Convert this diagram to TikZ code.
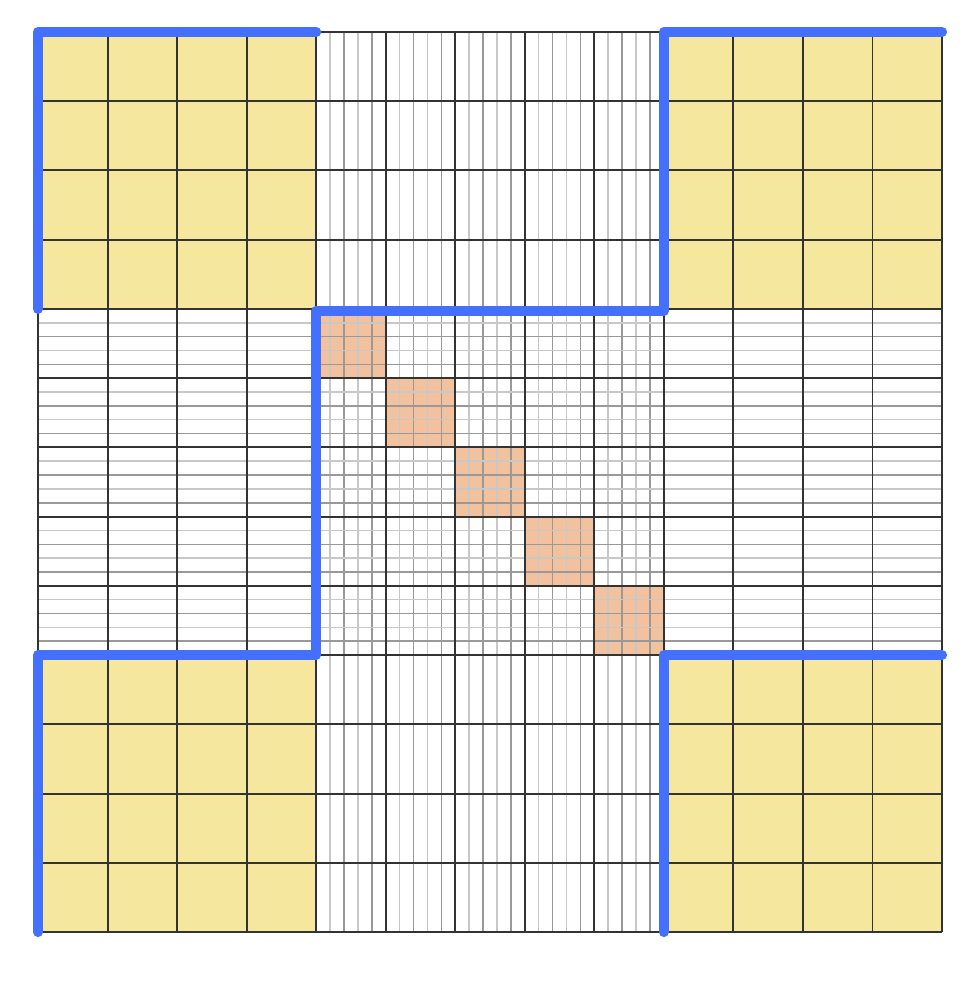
\documentclass[tikz,border=0pt]{standalone}
\usepackage{tikz}
\definecolor{cellyellow}{HTML}{F5E79E}
\definecolor{cellorange}{HTML}{F2C29E}
\definecolor{pathblue}{HTML}{4470FF}
\definecolor{coarsegray}{HTML}{333333}
\definecolor{finelight}{HTML}{C8C8C8}
\definecolor{finedark}{HTML}{999999}
\tikzset{
  coarseline/.style={draw=coarsegray, line width=0.55pt},
  fineA/.style={draw=finelight, line width=0.45pt},
  fineB/.style={draw=finedark, line width=0.45pt},
  bluepath/.style={draw=pathblue, line width=2.9pt, line cap=round, line join=round},
}
\begin{document}
\begin{tikzpicture}[x=0.01cm,y=-0.01cm]
\useasboundingbox (0,0) rectangle (980,992);
\def\xo{38}\def\yo{32}\def\cw{69.538}\def\ch{69.231}
% corner fills
\foreach \cx/\cy in {0/0,9/0,0/9,9/9}{
  \fill[cellyellow] ({\xo+\cx*\cw},{\yo+\cy*\ch}) rectangle ({\xo+(\cx+4)*\cw},{\yo+(\cy+4)*\ch});
}
% diagonal orange blocks
\foreach \i in {4,...,8}{
  \fill[cellorange] ({\xo+\i*\cw},{\yo+\i*\ch}) rectangle ({\xo+(\i+1)*\cw},{\yo+(\i+1)*\ch});
}
% fine vertical lines in middle columns
\foreach \c in {4,...,8}{
  \foreach \k in {1,3}{
    \draw[fineA] ({\xo+\c*\cw+\k*\cw/5},\yo) -- ({\xo+\c*\cw+\k*\cw/5},{\yo+13*\ch});
  }
  \foreach \k in {2,4}{
    \draw[fineB] ({\xo+\c*\cw+\k*\cw/5},\yo) -- ({\xo+\c*\cw+\k*\cw/5},{\yo+13*\ch});
  }
}
% fine horizontal lines in middle rows
\foreach \r in {4,...,8}{
  \foreach \k in {1,3}{
    \draw[fineA] (\xo,{\yo+\r*\ch+\k*\ch/5}) -- ({\xo+13*\cw},{\yo+\r*\ch+\k*\ch/5});
  }
  \foreach \k in {2,4}{
    \draw[fineB] (\xo,{\yo+\r*\ch+\k*\ch/5}) -- ({\xo+13*\cw},{\yo+\r*\ch+\k*\ch/5});
  }
}
% coarse grid
\foreach \i in {0,...,13}{
  \draw[coarseline] ({\xo+\i*\cw},\yo) -- ({\xo+\i*\cw},{\yo+13*\ch});
  \draw[coarseline] (\xo,{\yo+\i*\ch}) -- ({\xo+13*\cw},{\yo+\i*\ch});
}
% blue boundary paths
\coordinate (a0) at (\xo,{\yo+4*\ch});
\coordinate (a1) at (\xo,\yo);
\coordinate (a2) at ({\xo+4*\cw},\yo);
\draw[bluepath] (a0) -- (a1) -- (a2);
\coordinate (b0) at ({\xo+13*\cw},\yo);
\coordinate (b1) at ({\xo+9*\cw},\yo);
\coordinate (b2) at ({\xo+9*\cw},{\yo+4*\ch+2});
\coordinate (b3) at ({\xo+4*\cw},{\yo+4*\ch+2});
\coordinate (b4) at ({\xo+4*\cw},{\yo+9*\ch});
\coordinate (b5) at (\xo,{\yo+9*\ch});
\coordinate (b6) at (\xo,{\yo+13*\ch});
\draw[bluepath] (b0) -- (b1) -- (b2) -- (b3) -- (b4) -- (b5) -- (b6);
\coordinate (c0) at ({\xo+9*\cw},{\yo+13*\ch});
\coordinate (c1) at ({\xo+9*\cw},{\yo+9*\ch});
\coordinate (c2) at ({\xo+13*\cw},{\yo+9*\ch});
\draw[bluepath] (c0) -- (c1) -- (c2);
\end{tikzpicture}
\end{document}
